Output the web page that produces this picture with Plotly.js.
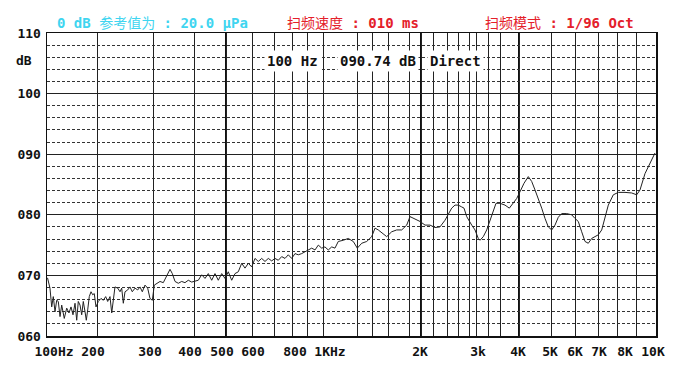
<!DOCTYPE html>
<html>
<head>
<meta charset="utf-8">
<script src="https://cdn.plot.ly/plotly-3.0.1.min.js"></script>
<style>html,body{margin:0;padding:0;background:#fff;}#chart{width:683px;height:370px;}</style>
</head>
<body>
<div id="chart"></div>
<script>
// ---- data (frequency in Hz, level in dB) ----
const freqHz = [
 100,105,108.5,111.7,115.2,118.6,121.8,125.3,128.7,133.9,138.8,143.4,147.5,151.5,155.6,159,162.2,165.7,169.1,172.3,175.8,178.4,181.2,184.4,187.9,191.3,194.5,198,
 202.3,207.1,211.3,215.5,219.1,223.2,226.3,229.1,232.1,237,241.1,244.1,247,250,254.8,258.9,263,267.9,272.7,276.8,280.9,285.7,290.5,294.6,298.8,
 303.2,309,317.1,325.1,333.4,341.5,347.1,353.7,361.7,370,378,386.1,394.4,
 403.1,413.4,424.1,434.4,444.7,455.3,465.6,475.9,486.6,496.9,
 508.8,521.9,534.6,547.3,560.4,573.1,585.8,598.8,
 613.6,628.6,644.1,659.1,674.1,689.5,
 705.6,723.9,742.8,761.1,779.4,798.3,
 820,842,864.7,886.7,
 908.1,929.4,950,970.6,991.9,
 1020,1054,1089,1122,1156,1207,1258,1309,1350,1395,1446,1497,1531,1564,1615,1650,1701,1752,1803,1854,1888,1922,1957,1990,
 2073,2164,2255,2345,2436,2496,2558,2618,2678,2740,2782,2831,2878,2922,2982,
 3053,3093,3170,3249,3326,3402,3465,3558,3674,3775,3868,3947,
 4031,4156,4291,4397,4500,4603,4709,4813,4916,
 5029,5167,5304,5446,5654,5863,
 6000,6143,6291,6435,6578,6726,6870,
 7016,7195,7368,7542,7805,
 8068,8421,8774,
 9035,9200,9450,9700,9950
];
const levelDb = [
 69.6,67.9,64.8,66.5,64,65.9,65.7,63.2,65.1,62.9,64.6,63.8,64.8,63.5,65.4,62.6,65.7,65.1,63.5,65.7,64,62.6,64.3,66.5,67.3,66.8,67,64.8,
 65.7,66.2,65.9,66.5,65.7,66.5,63.8,66.2,68.1,67.9,67.3,67.9,65.4,67.3,67.6,68.1,67.3,67.9,67.6,68.1,67.3,68.4,67.9,66.2,65.9,
 68.4,68.7,69,68.8,69.8,71,70.3,69,68.7,69,68.8,69.2,68.9,
 69,69.2,70.1,69.5,70.3,69.2,70.3,69.2,70.3,69.5,
 70.6,69.2,70.3,70.6,72,71.2,72,71.4,
 72.8,72.3,72.8,72.3,72.8,72.4,
 72.8,72.5,73.1,72.8,73.4,72.8,
 73.6,73.4,73.6,73.9,
 74.2,74.5,74.2,75,74.5,
 74.7,74.2,74.7,74.5,75.6,75.8,76.1,75.6,74.5,75.3,75.6,76.4,77.8,77.5,76.9,76.4,77.2,77.5,77.5,78.3,79.7,79.4,79.1,78.9,
 78.3,78.3,77.9,78,79.1,80,81.1,81.6,81.6,81.3,81.1,79.7,78.9,78.3,77.5,
 76.1,75.8,76.4,77.5,79.1,80.8,81.9,81.9,81.6,81.1,81.9,82.7,
 83.8,85.2,86.3,85.5,84.1,82.7,81.1,79.4,78,
 77.5,78.3,79.6,80.2,80.2,80,
 79.4,78.9,77.2,75.6,75.3,76.1,76.4,
 76.7,77.5,79.4,81.6,83.3,
 83.7,83.7,83.6,
 83.3,84.1,86.8,88.5,90.2
];
const xTickLabels = ["100Hz","200","300","400","500","600","800","1KHz","2K","3k","4K","5K","6K","7K","8K","10K"];
const yTickValues = [60,70,80,90,100,110];
const yTickLabels = ["060","070","080","090","100","110"];

// ---- custom analyzer frequency scale (piecewise, frequency -> display units) ----
const scaleFreq = [100,200,300,400,500,600,700,800,900,1000,2000,3000,4000,5000,6000,7000,8000,9000,10000];
const scalePos  = [47.5,97,153,194,226,252,274,292,307,323,421,476,519,551,575,598,617,636,656];
function freqToPos(f){
  for (let i=0;i<scaleFreq.length-1;i++){
    if (f<=scaleFreq[i+1] || i===scaleFreq.length-2){
      const t=(f-scaleFreq[i])/(scaleFreq[i+1]-scaleFreq[i]);
      return scalePos[i]+t*(scalePos[i+1]-scalePos[i]);
    }
  }
}
// layout-only placement of grid lines and labels on the display scale
const gridPos = [97,153,194,226,252,274,292,307,323,357,372,388,409,421,433,447,458,469,476,488,500,519,551,575,598,617,636];
const thickGridPos = [226,421,519];
const labelPos = [54,93,150,190,222,253,295,330,420,478,518,550,575,599,625,653];

const mono = "DejaVu Sans Mono, Liberation Mono, monospace";
const monoCJK = "DejaVu Sans Mono, Noto Sans CJK SC, monospace";

const trace = {
  x: freqHz.map(freqToPos), y: levelDb,
  type:'scatter', mode:'lines',
  line:{color:'#222', width:1},
  hoverinfo:'skip', showlegend:false
};

const shapes = thickGridPos.map(p=>({type:'line', xref:'x', yref:'paper', x0:p, x1:p, y0:0, y1:1, layer:'below', line:{color:'#111', width:2}}));

const layout = {
  width:683, height:370,
  margin:{l:47, r:27, t:33, b:34},
  paper_bgcolor:'#fff', plot_bgcolor:'#fff',
  showlegend:false,
  xaxis:{
    range:[47,656], fixedrange:true,
    tickmode:'array', tickvals:labelPos, ticktext:xTickLabels,
    showgrid:false, zeroline:false,
    showline:true, mirror:true, linecolor:'#111', linewidth:1.5,
    ticks:'', ticklabelstandoff:3, tickfont:{family:mono, size:13, color:'#111', weight:'bold'},
    minor:{tickmode:'array', tickvals:gridPos, showgrid:true, gridcolor:'#222', gridwidth:1, ticks:''}
  },
  yaxis:{
    range:[60,110], fixedrange:true,
    tickmode:'array', tickvals:yTickValues, ticktext:yTickLabels,
    showgrid:true, gridcolor:'#222', gridwidth:1, zeroline:false,
    showline:true, mirror:true, linecolor:'#111', linewidth:1.5,
    ticks:'', ticklabelstandoff:2, tickfont:{family:mono, size:13, color:'#111', weight:'bold'},
    minor:{tick0:60, dtick:2, showgrid:true, gridcolor:'#333', gridwidth:1, griddash:'3px,2px', ticks:''}
  },
  shapes: shapes,
  annotations:[
    {text:'<b>dB</b>', xref:'paper', yref:'y', x:-0.055, y:105.4, xanchor:'left', yanchor:'middle', showarrow:false, font:{family:mono, size:13, color:'#111'}},
    {text:'<b>0 dB</b> 参考值为 <b>: 20.0 μPa</b>', xref:'x', yref:'paper', x:55, y:1.034, xanchor:'left', yanchor:'middle', showarrow:false, font:{family:monoCJK, size:14, color:'#3fd5f0'}},
    {text:'扫频速度 <b>: 010 ms</b>', xref:'x', yref:'paper', x:285, y:1.034, xanchor:'left', yanchor:'middle', showarrow:false, font:{family:monoCJK, size:14, color:'#e4202a'}},
    {text:'扫频模式 <b>: 1/96 Oct</b>', xref:'x', yref:'paper', x:483, y:1.034, xanchor:'left', yanchor:'middle', showarrow:false, font:{family:monoCJK, size:14, color:'#e4202a'}},
    {text:'<b>100 Hz</b>', xref:'x', yref:'y', x:264, y:105.4, xanchor:'left', yanchor:'middle', showarrow:false, bgcolor:'#fff', borderpad:2, font:{family:mono, size:14, color:'#111'}},
    {text:'<b>090.74 dB</b>', xref:'x', yref:'y', x:337, y:105.4, xanchor:'left', yanchor:'middle', showarrow:false, bgcolor:'#fff', borderpad:2, font:{family:mono, size:14, color:'#111'}},
    {text:'<b>Direct</b>', xref:'x', yref:'y', x:427, y:105.4, xanchor:'left', yanchor:'middle', showarrow:false, bgcolor:'#fff', borderpad:2, font:{family:mono, size:14, color:'#111'}}
  ]
};

Plotly.newPlot('chart',[trace],layout,{staticPlot:true, displayModeBar:false});
</script>
</body>
</html>
